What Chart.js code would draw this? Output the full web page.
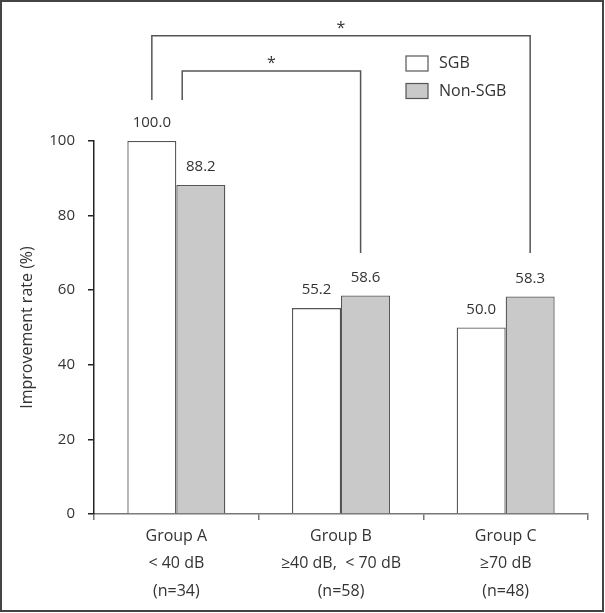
<!DOCTYPE html>
<html><head><meta charset="utf-8">
<script src="https://cdn.jsdelivr.net/npm/chart.js@4"></script>
<style>html,body{margin:0;padding:0;background:#fff}</style>
</head><body>
<canvas id="c" width="605" height="613"></canvas>
<script>
// ---- data ----
const categories = [
  ["Group A", "< 40 dB", "(n=34)"],
  ["Group B", "\u226540 dB,  < 70 dB", "(n=58)"],
  ["Group C", "\u226570 dB", "(n=48)"]
];
const seriesNames = ["SGB", "Non-SGB"];
const sgbValues = [100.0, 55.2, 50.0];
const nonSgbValues = [88.2, 58.6, 58.3];
const yTickValues = [0, 20, 40, 60, 80, 100];
const yAxisTitle = "Improvement rate (%)";
const sigMarks = ["*", "*"];

const FONT = "'Open Sans', 'DejaVu Sans', sans-serif";
const TXT = '#333';

const annotPlugin = {
  id: 'annot',
  beforeDraw(chart) {
    const ctx = chart.ctx;
    ctx.save();
    ctx.strokeStyle = '#444';
    ctx.lineWidth = 2;
    ctx.strokeRect(1, 1, 602, 610);
    ctx.restore();
  },
  afterDatasetsDraw(chart) {
    const ctx = chart.ctx;
    const xs = chart.scales.x, ys = chart.scales.y;
    ctx.save();
    // value labels
    ctx.font = '15px ' + FONT;
    ctx.fillStyle = TXT;
    ctx.textAlign = 'center';
    ctx.textBaseline = 'middle';
    chart.data.datasets.forEach((ds, di) => {
      const meta = chart.getDatasetMeta(di);
      meta.data.forEach((el, i) => {
        ctx.fillText(ds.data[i].toFixed(1), el.x, el.y - 18);
      });
    });
    // significance brackets
    const m0 = chart.getDatasetMeta(0).data, m1 = chart.getDatasetMeta(1).data;
    const w = m0[0].width;
    const brackets = [
      { x1: m0[0].x, x2: m1[2].x, top: 128.2, yl: 111, yr: 70, sx: xs.getPixelForValue(1) },
      { x1: xs.getPixelForValue(0) + 0.12 * w, x2: xs.getPixelForValue(1) + 0.4 * w, top: 118.8, yl: 111, yr: 70, sx: null }
    ];
    ctx.strokeStyle = '#555';
    ctx.lineWidth = 1.5;
    brackets.forEach((b, k) => {
      const yt = ys.getPixelForValue(b.top);
      ctx.beginPath();
      ctx.moveTo(b.x1, ys.getPixelForValue(b.yl));
      ctx.lineTo(b.x1, yt);
      ctx.lineTo(b.x2, yt);
      ctx.lineTo(b.x2, ys.getPixelForValue(b.yr));
      ctx.stroke();
      const sx = b.sx !== null ? b.sx : (b.x1 + b.x2) / 2;
      ctx.textBaseline = 'alphabetic';
      ctx.font = '16px ' + FONT;
      ctx.fillText(sigMarks[k], sx, yt - 3);
    });
    // legend
    ctx.font = '16px ' + FONT;
    ctx.textAlign = 'left';
    ctx.textBaseline = 'middle';
    chart.data.datasets.forEach((ds, di) => {
      const by = 56 + di * 27.5;
      ctx.fillStyle = ds.backgroundColor;
      ctx.fillRect(406, by, 22, 15);
      ctx.strokeStyle = '#555';
      ctx.lineWidth = 1.2;
      ctx.strokeRect(406, by, 22, 15);
      ctx.fillStyle = TXT;
      ctx.fillText(ds.label, 439, by + 7.5);
    });
    ctx.restore();
  }
};

new Chart(document.getElementById('c'), {
  type: 'bar',
  data: {
    labels: categories,
    datasets: [
      { label: seriesNames[0], data: sgbValues, backgroundColor: '#ffffff', borderColor: '#555', borderWidth: 1.3 },
      { label: seriesNames[1], data: nonSgbValues, backgroundColor: '#c9c9c9', borderColor: '#555', borderWidth: 1.3 }
    ]
  },
  options: {
    responsive: false,
    animation: false,
    devicePixelRatio: 1,
    layout: { padding: { top: 141, right: 17, left: 0, bottom: 0 } },
    datasets: { bar: { categoryPercentage: 0.595, barPercentage: 1.0, clip: false } },
    plugins: { legend: { display: false }, tooltip: { enabled: false } },
    scales: {
      x: {
        afterFit(s) { s.height = 99; },
        grid: { offset: true, drawOnChartArea: false, drawTicks: true, tickLength: 6, color: '#777', lineWidth: 1.5 },
        border: { display: true, color: '#777', width: 1.5 },
        ticks: { color: TXT, padding: 3, font: { family: FONT, size: 16, lineHeight: 1.7 } }
      },
      y: {
        min: 0, max: 100,
        afterFit(s) { s.width = 94; },
        afterBuildTicks(s) { s.ticks = yTickValues.map(v => ({ value: v })); },
        grid: { drawOnChartArea: false, drawTicks: true, tickLength: 6, color: '#222', lineWidth: 1.5 },
        border: { display: true, color: '#222', width: 1.5 },
        ticks: { color: TXT, padding: 13, font: { family: FONT, size: 15 } },
        title: { display: true, text: yAxisTitle, color: TXT, padding: { top: 18, bottom: 0 }, font: { family: FONT, size: 16, lineHeight: 1.2 } }
      }
    }
  },
  plugins: [annotPlugin]
});
</script>
</body></html>
